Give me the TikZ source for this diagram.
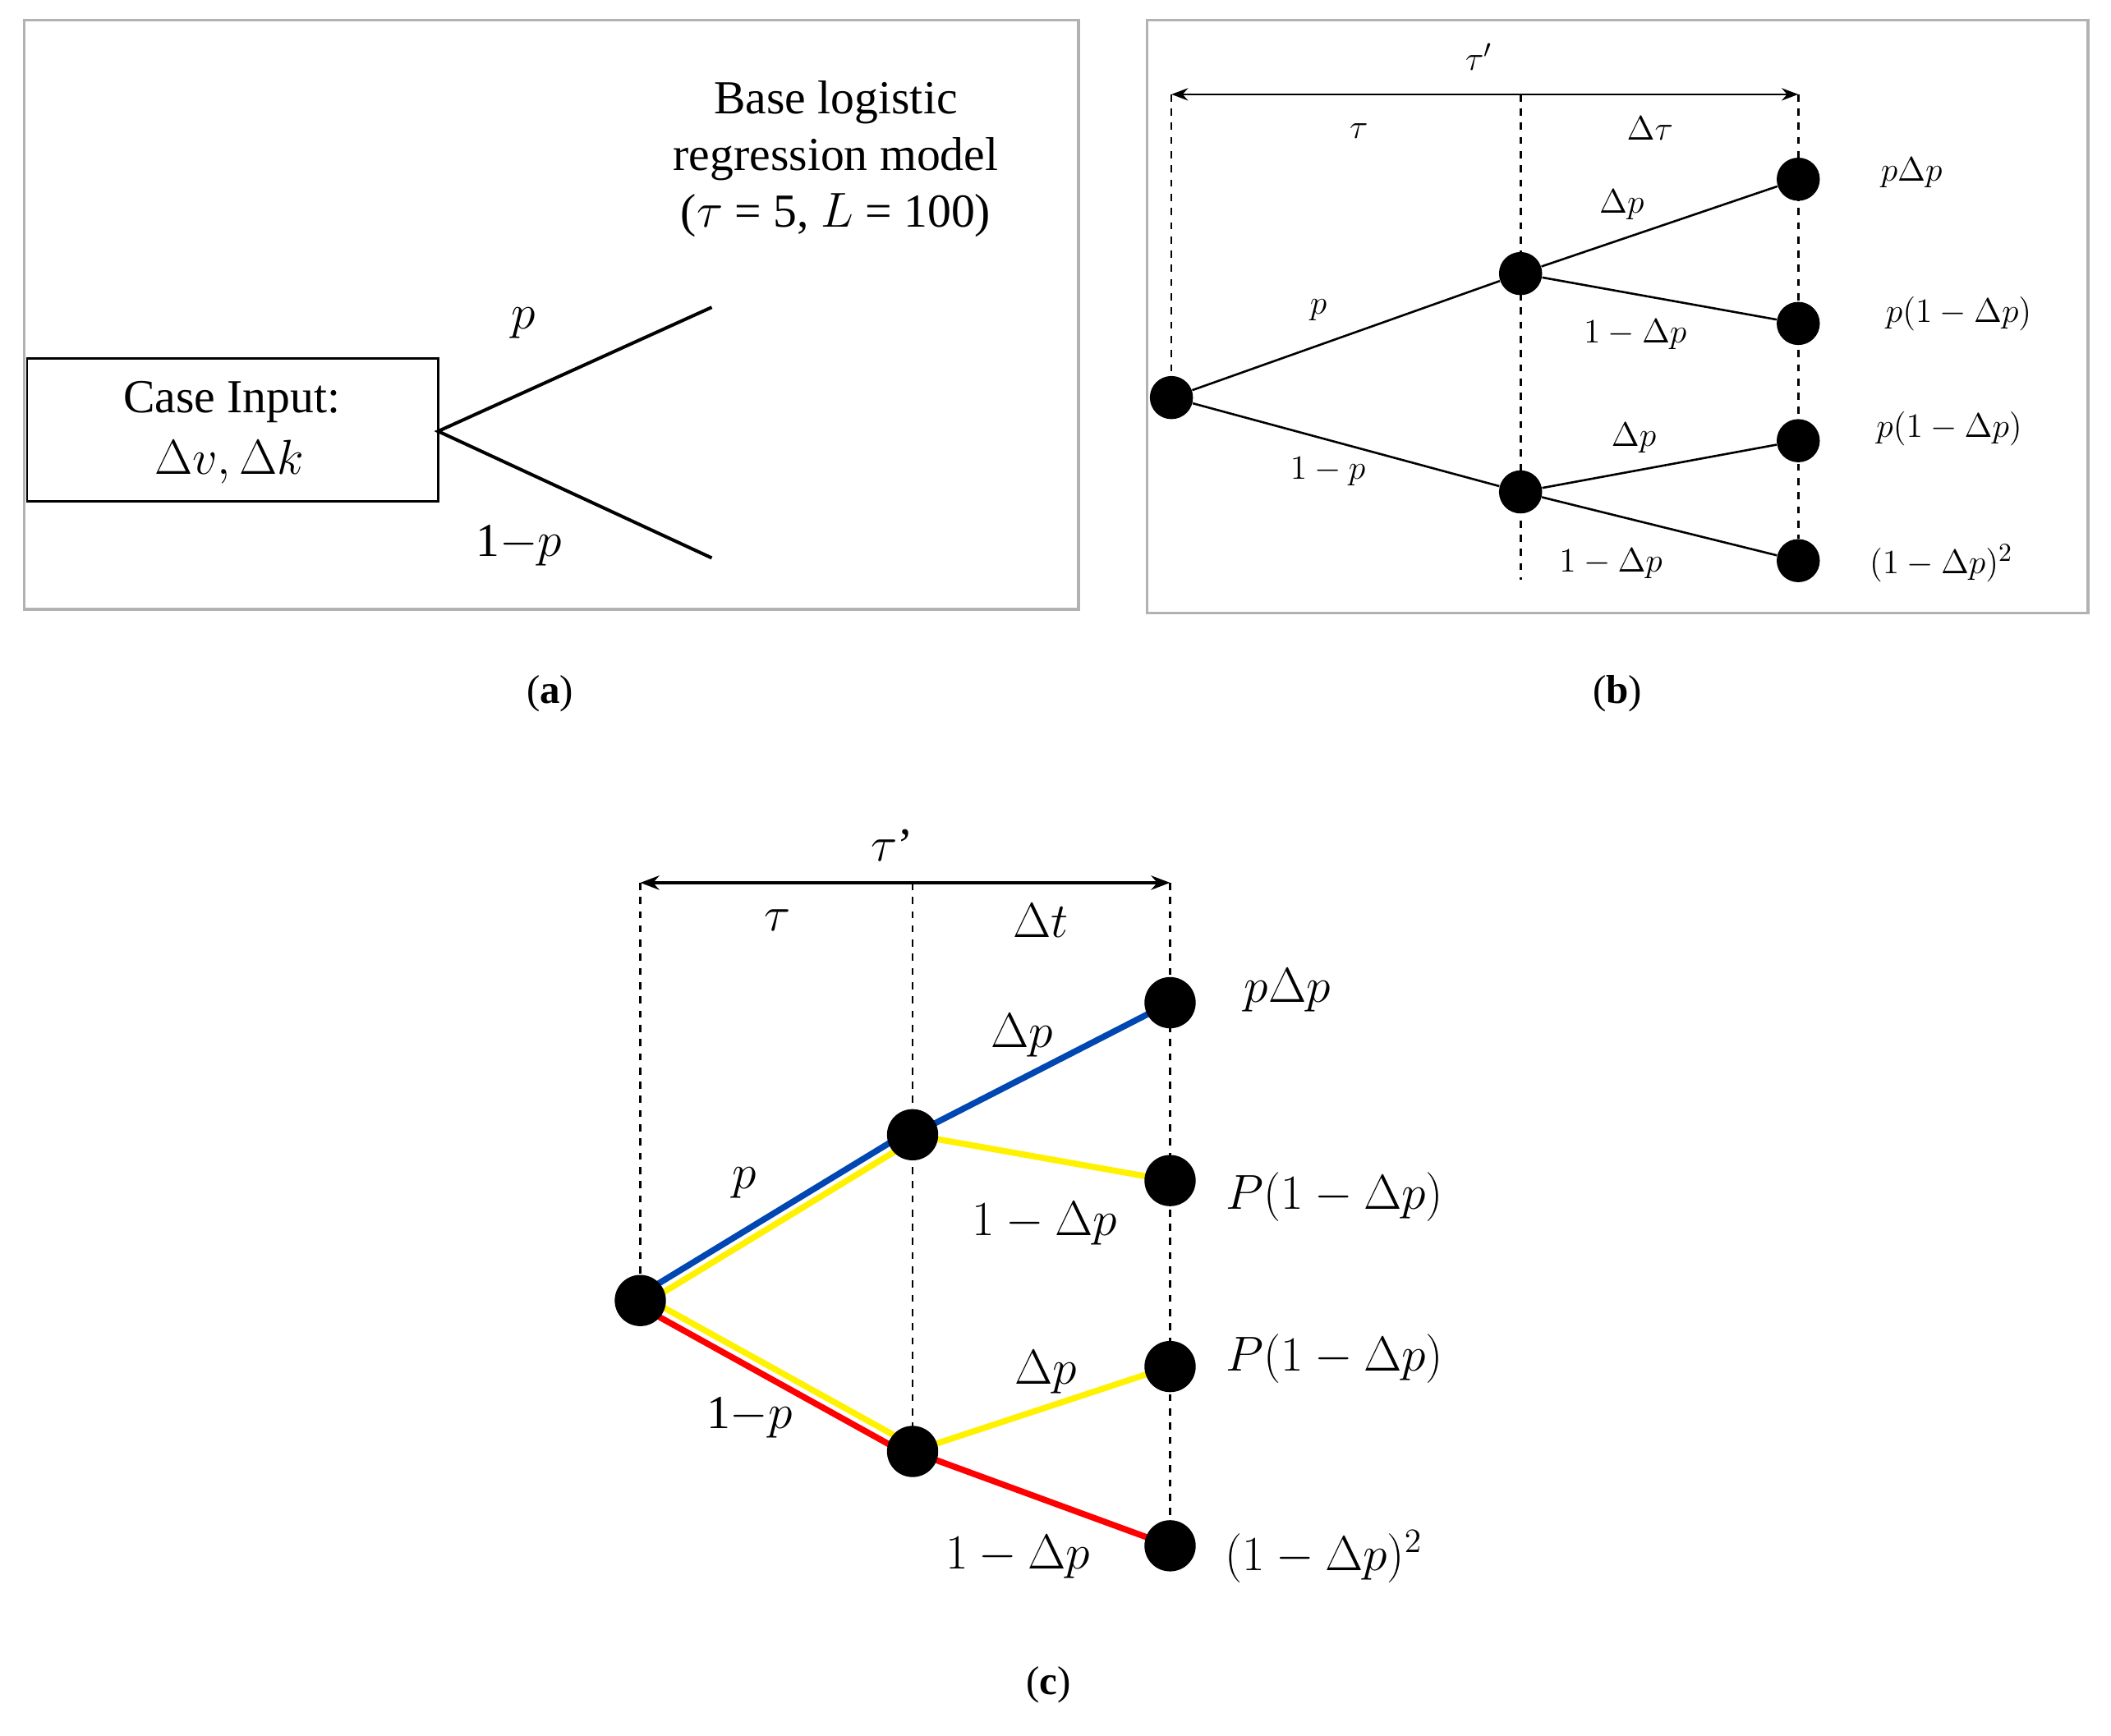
\documentclass[tikz,border=0pt]{standalone}
\usepackage{fontspec}
\setmainfont{Liberation Serif}
\usetikzlibrary{arrows.meta}
\begin{document}
\begin{tikzpicture}[x=0.02cm,y=-0.02cm,
  dot/.style={circle,fill=black,inner sep=0pt,minimum size=#1},
  dsh/.style={dashed,line width=0.9pt},
  ea/.style={line width=1.4pt},
  eb/.style={line width=0.9pt},
  ec/.style={line width=2.6pt},
  la/.style={font=\fontsize{20}{24}\selectfont},
  lb/.style={font=\fontsize{15}{18}\selectfont},
  lc/.style={font=\fontsize{20}{24}\selectfont},
  capt/.style={font=\fontsize{17}{20}\selectfont}]
\useasboundingbox (0,0) rectangle (1566,1288);
% panel a
\draw[gray!60,line width=1.2pt] (18,15) rectangle (800,452);
\node[draw,line width=0.8pt,minimum width=305*0.02cm,minimum height=106*0.02cm,inner sep=0pt] (box) at (172.5,319) {};
\node[la] (t1) at (172,298) {Case Input:};
\node[la] (t2) at (170,343) {$\Delta v, \Delta k$};
\coordinate (ar) at (325,320);
\coordinate (au) at (528,228);
\coordinate (ad) at (528,414);
\draw[ea] (au) -- (ar) -- (ad);
\node[la] (ap) at (388,240) {$p$};
\node[la] (aq) at (385,405) {1$-p$};
\node[la,align=center] (base) at (620,118) {Base logistic\\regression model\\($\tau$ = 5, $L$ = 100)};
\node[capt] (ca) at (408,515) {(\textbf{a})};
% panel b
\draw[gray!60,line width=1.2pt] (851,15) rectangle (1549,455);
\node[dot=32*0.02cm] (b0) at (869,295) {};
\node[dot=32*0.02cm] (b1) at (1128,203) {};
\node[dot=32*0.02cm] (b2) at (1128,365) {};
\node[dot=32*0.02cm] (b3) at (1334,133) {};
\node[dot=32*0.02cm] (b4) at (1334,240) {};
\node[dot=32*0.02cm] (b5) at (1334,327) {};
\node[dot=32*0.02cm] (b6) at (1334,416) {};
\coordinate (bt0) at (869,70); \coordinate (bt1) at (1128,70); \coordinate (bt2) at (1334,70);
\coordinate (bb1) at (1128,430);
\draw[dsh] (bt0) -- (b0); \draw[dsh] (bt1) -- (bb1); \draw[dsh] (bt2) -- (b6);
\draw[eb,{Stealth[length=7pt]}-{Stealth[length=7pt]}] (bt0) -- (bt2);
\draw[eb] (b0) -- (b1) -- (b3); \draw[eb] (b1) -- (b4);
\draw[eb] (b0) -- (b2) -- (b5); \draw[eb] (b2) -- (b6);
\node[lb] at (1097,42) {$\tau'$};
\node[lb] at (1008,97) {$\tau$};
\node[lb] at (1224,95) {$\Delta\tau$};
\node[lb] at (1203,152) {$\Delta p$};
\node[lb] at (1213,248) {$1-\Delta p$};
\node[lb] at (978,230) {$p$};
\node[lb] at (985,350) {$1-p$};
\node[lb] at (1212,325) {$\Delta p$};
\node[lb] at (1195,418) {$1-\Delta p$};
\node[lb] at (1418,128) {$p\Delta p$};
\node[lb] at (1453,233) {$p(1-\Delta p)$};
\node[lb] at (1446,318) {$p(1-\Delta p)$};
\node[lb] at (1440,418) {$(1-\Delta p)^2$};
\node[capt] (cb) at (1200,515) {(\textbf{b})};
% panel c
\coordinate (ct0) at (475,655); \coordinate (ct1) at (677,655); \coordinate (ct2) at (868,655);
\coordinate (c0) at (475,965); \coordinate (c1) at (677,842); \coordinate (c2) at (677,1077);
\coordinate (c3) at (868,744); \coordinate (c4) at (868,876); \coordinate (c5) at (868,1014); \coordinate (c6) at (868,1147);
\draw[dsh] (ct0) -- (c0); \draw[dsh] (ct1) -- (c2); \draw[dsh] (ct2) -- (c6);
\draw[eb,line width=1.2pt,{Stealth[length=8pt]}-{Stealth[length=8pt]}] (ct0) -- (ct2);
\draw[ec,blue!60!cyan!70!black] ([yshift=2.5pt]c0) -- ([yshift=2.5pt]c1);
\draw[ec,yellow] ([yshift=-2.5pt]c0) -- ([yshift=-2.5pt]c1);
\draw[ec,blue!60!cyan!70!black] (c1) -- (c3);
\draw[ec,yellow] (c1) -- (c4);
\draw[ec,yellow] ([yshift=2.5pt]c0) -- ([yshift=2.5pt]c2);
\draw[ec,red] ([yshift=-2.5pt]c0) -- ([yshift=-2.5pt]c2);
\draw[ec,yellow] (c2) -- (c5);
\draw[ec,red] (c2) -- (c6);
\foreach \n in {c0,c1,c2,c3,c4,c5,c6} \node[dot=38*0.02cm] (n\n) at (\n) {};
\node[lc] at (662,627) {$\tau$’};
\node[lc] at (577,683) {$\tau$};
\node[lc] at (772,683) {$\Delta t$};
\node[lc] at (758,768) {$\Delta p$};
\node[lc] at (775,908) {$1-\Delta p$};
\node[lc] at (552,878) {$p$};
\node[lc] at (556,1052) {1$-p$};
\node[lc] at (776,1018) {$\Delta p$};
\node[lc] at (755,1155) {$1-\Delta p$};
\node[lc] at (955,735) {$p\Delta p$};
\node[lc] at (990,888) {$P(1-\Delta p)$};
\node[lc] at (990,1008) {$P(1-\Delta p)$};
\node[lc] at (982,1155) {$(1-\Delta p)^2$};
\node[capt] (cc) at (778,1250) {(\textbf{c})};
\end{tikzpicture}
\end{document}
